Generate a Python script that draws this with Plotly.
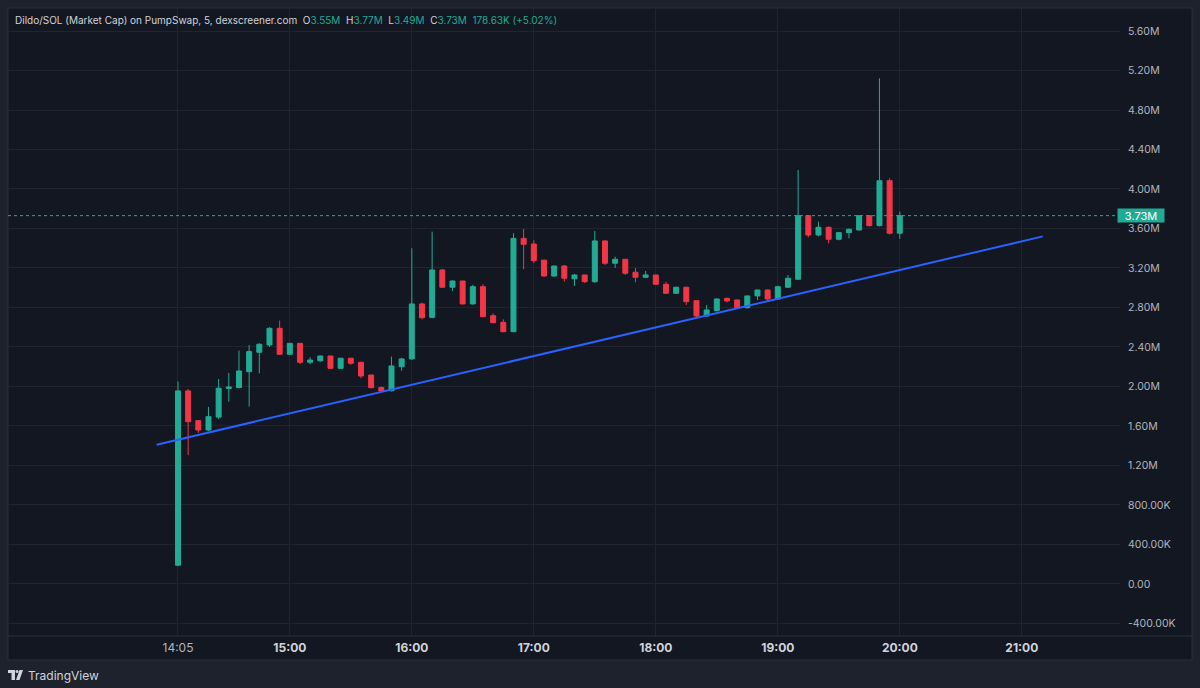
import pandas as pd
import plotly.graph_objects as go

# 5 minute candles, values in millions (market cap)
opens = [0.19, 1.955, 1.654, 1.559, 1.69, 1.98, 1.99, 2.15, 2.346, 2.42,
         2.589, 2.326, 2.437, 2.245, 2.26, 2.309, 2.184, 2.286, 2.245, 2.116,
         1.99, 1.957, 2.20, 2.279, 2.836, 2.70, 3.18, 3.005, 3.068, 2.836,
         3.011, 2.717, 2.65, 2.555, 3.50, 3.443, 3.28, 3.119, 3.22, 3.09,
         3.129, 3.061, 3.474, 3.248, 3.288, 3.157, 3.106, 3.129, 3.035, 2.944,
         3.005, 2.869, 2.714, 2.77, 2.893, 2.876, 2.798, 2.917, 2.977, 2.886,
         3.005, 3.086, 3.73, 3.534, 3.612, 3.491, 3.558, 3.585, 3.73, 3.629,
         4.084, 3.552]
highs = [2.05, 1.975, 1.66, 1.793, 2.076, 2.137, 2.363, 2.42, 2.44, 2.60,
         2.667, 2.44, 2.44, 2.296, 2.31, 2.31, 2.29, 2.29, 2.25, 2.12,
         2.0, 2.302, 2.29, 3.40, 2.85, 3.568, 3.19, 3.075, 3.07, 3.03,
         3.035, 2.741, 2.68, 3.552, 3.595, 3.48, 3.28, 3.22, 3.23, 3.14,
         3.13, 3.575, 3.48, 3.315, 3.29, 3.20, 3.17, 3.13, 3.06, 3.01,
         3.01, 2.87, 2.825, 2.89, 2.90, 2.88, 2.92, 2.98, 2.98, 3.02,
         3.129, 4.193, 3.73, 3.669, 3.62, 3.56, 3.60, 3.73, 3.735, 5.121,
         4.108, 3.77]
lows = [0.18, 1.306, 1.53, 1.55, 1.67, 1.846, 1.98, 1.796, 2.134, 2.40,
        2.32, 2.32, 2.228, 2.225, 2.25, 2.18, 2.18, 2.22, 2.083, 1.98,
        1.95, 1.95, 2.16, 2.27, 2.68, 2.69, 3.0, 2.967, 2.83, 2.83,
        2.70, 2.64, 2.55, 2.55, 3.187, 3.25, 3.11, 3.11, 3.062, 3.018,
        3.05, 3.05, 3.23, 3.20, 3.13, 3.055, 3.10, 3.03, 2.94, 2.94,
        2.825, 2.70, 2.71, 2.76, 2.85, 2.79, 2.79, 2.876, 2.87, 2.88,
        3.0, 3.08, 3.511, 3.52, 3.45, 3.48, 3.50, 3.58, 3.62, 3.62,
        3.54, 3.494]
closes = [1.955, 1.644, 1.559, 1.694, 1.982, 1.995, 2.157, 2.353, 2.427, 2.589,
          2.326, 2.437, 2.245, 2.268, 2.309, 2.184, 2.286, 2.235, 2.106, 1.988,
          1.955, 2.208, 2.279, 2.836, 2.697, 3.18, 3.005, 3.068, 2.836, 3.011,
          2.707, 2.646, 2.555, 3.50, 3.44, 3.274, 3.119, 3.22, 3.096, 3.129,
          3.061, 3.474, 3.248, 3.288, 3.147, 3.106, 3.13, 3.035, 2.944, 3.005,
          2.859, 2.714, 2.775, 2.886, 2.866, 2.798, 2.917, 2.977, 2.886, 3.011,
          3.096, 3.73, 3.534, 3.612, 3.491, 3.558, 3.592, 3.73, 3.629, 4.084,
          3.552, 3.73]

# trend line drawn on the chart
trend_times = ["2025-01-01 13:54:30", "2025-01-01 21:10:20"]
trend_values = [1.41, 3.52]

y_ticks = [-0.4, 0.0, 0.4, 0.8, 1.2, 1.6, 2.0, 2.4, 2.8, 3.2, 3.6, 4.0, 4.4, 4.8, 5.2, 5.6]
y_labels = ["-400.00K", "0.00", "400.00K", "800.00K", "1.20M", "1.60M", "2.00M", "2.40M",
            "2.80M", "3.20M", "3.60M", "4.00M", "4.40M", "4.80M", "5.20M", "5.60M"]
x_ticks = ["2025-01-01 14:05", "2025-01-01 15:00", "2025-01-01 16:00", "2025-01-01 17:00",
           "2025-01-01 18:00", "2025-01-01 19:00", "2025-01-01 20:00", "2025-01-01 21:00"]
x_labels = ["14:05", "15:00", "16:00", "17:00", "18:00", "19:00", "20:00", "21:00"]

UP = "#22ab94"
DOWN = "#f23645"
PANEL = "#131722"
OUTER = "#1e222d"
BORDER = "#2a2e39"
GRID = "#1f2430"
TEXT = "#b2b5be"

M = 1e6
df = pd.DataFrame({"open": opens, "high": highs, "low": lows, "close": closes})
df["time"] = pd.date_range("2025-01-01 14:05", periods=len(df), freq="5min")

fig = go.Figure()

fig.add_trace(go.Candlestick(
    x=df["time"],
    open=df["open"] * M, high=df["high"] * M, low=df["low"] * M, close=df["close"] * M,
    increasing=dict(line=dict(color=UP, width=1), fillcolor=UP),
    decreasing=dict(line=dict(color=DOWN, width=1), fillcolor=DOWN),
    whiskerwidth=0,
    hoverinfo="skip",
    showlegend=False
))

fig.add_trace(go.Scatter(
    x=pd.to_datetime(trend_times), y=[v * M for v in trend_values],
    mode="lines", line=dict(color="#2962ff", width=2),
    hoverinfo="skip", showlegend=False
))

last_close = closes[-1] * M

# pixel -> paper helpers (plot area 8..1120 x 8..636)
def px(x):
    return (x - 8) / 1112

def py(y):
    return (636 - y) / 628

shapes = [
    # chart panel
    dict(type="rect", xref="paper", yref="paper", x0=px(8), x1=px(1192), y0=py(8), y1=py(660),
         fillcolor=PANEL, line=dict(color=BORDER, width=1), layer="below"),
    # time axis separator
    dict(type="line", xref="paper", yref="paper", x0=px(8), x1=px(1192), y0=0, y1=0,
         line=dict(color=BORDER, width=1)),
    # last price dotted line
    dict(type="line", xref="paper", yref="y", x0=0, x1=1, y0=last_close, y1=last_close,
         line=dict(color=UP, width=1, dash="dot")),
    # TradingView logo
    dict(type="rect", xref="paper", yref="paper", x0=px(8), x1=px(15), y0=py(670), y1=py(673),
         fillcolor="#d1d4dc", line=dict(width=0)),
    dict(type="rect", xref="paper", yref="paper", x0=px(11.5), x1=px(15), y0=py(673), y1=py(680),
         fillcolor="#d1d4dc", line=dict(width=0)),
    dict(type="circle", xref="paper", yref="paper", x0=px(15.5), x1=px(18.5), y0=py(670), y1=py(673),
         fillcolor="#d1d4dc", line=dict(width=0)),
    dict(type="path", xref="paper", yref="paper",
         path=f"M {px(19.5)} {py(670)} L {px(23)} {py(670)} L {px(19.5)} {py(680)} L {px(16)} {py(680)} Z",
         fillcolor="#d1d4dc", line=dict(width=0)),
]

gap = "&nbsp;&nbsp;"
header = ("<span style='color:#d1d4dc'>Dildo/SOL (Market Cap) on PumpSwap, 5, dexscreener.com</span>"
          f"{gap}O<span style='color:#22ab94'>3.55M</span>"
          f"{gap}H<span style='color:#22ab94'>3.77M</span>"
          f"{gap}L<span style='color:#22ab94'>3.49M</span>"
          f"{gap}C<span style='color:#22ab94'>3.73M</span>"
          f"{gap}<span style='color:#22ab94'>178.63K (+5.02%)</span>")

annotations = [
    dict(xref="paper", yref="paper", x=px(13), y=py(20), xanchor="left", yanchor="middle",
         text=header, showarrow=False, font=dict(size=10, color="#d1d4dc")),
    dict(xref="paper", yref="y", x=px(1117), y=last_close, xanchor="left", yanchor="middle",
         text=f"{closes[-1]:.2f}M", showarrow=False, bgcolor=UP, width=46, height=13,
         align="center", borderpad=0, font=dict(size=11, color="#ffffff")),
    dict(xref="paper", yref="paper", x=px(26), y=py(675), xanchor="left", yanchor="middle",
         text="TradingView", showarrow=False, font=dict(size=12, color="#d1d4dc")),
]

tick_text_x = [f"<span style='color:{TEXT}'>{x_labels[0]}</span>"] + [f"<b>{t}</b>" for t in x_labels[1:]]

fig.update_layout(
    width=1200, height=688,
    margin=dict(l=8, r=80, t=8, b=52),
    paper_bgcolor=OUTER,
    plot_bgcolor=PANEL,
    font=dict(family="Inter, Roboto, sans-serif", size=11, color=TEXT),
    shapes=shapes,
    annotations=annotations,
    hovermode=False,
    xaxis=dict(
        type="date",
        range=["2025-01-01 12:41:24", "2025-01-01 21:48:18"],
        rangeslider=dict(visible=False),
        tickvals=pd.to_datetime(x_ticks), ticktext=tick_text_x,
        tickfont=dict(size=12, color="#d1d4dc"),
        showgrid=True, gridcolor=GRID, gridwidth=1,
        zeroline=False, showline=False, ticks="",
        ticklabelstandoff=3,
        fixedrange=True,
    ),
    yaxis=dict(
        side="right",
        range=[-0.527 * M, 5.833 * M],
        tickvals=[v * M for v in y_ticks], ticktext=y_labels,
        tickfont=dict(size=10.5),
        showgrid=True, gridcolor=GRID, gridwidth=1,
        zeroline=False, showline=False, ticks="",
        ticklabelstandoff=7,
        fixedrange=True,
    ),
)

# page body has a default 8px margin; drop it so the figure fills the window
fig.write_html("out.html", config={"displayModeBar": False},
               post_script="document.body.style.margin='0';document.body.style.overflow='hidden';")
